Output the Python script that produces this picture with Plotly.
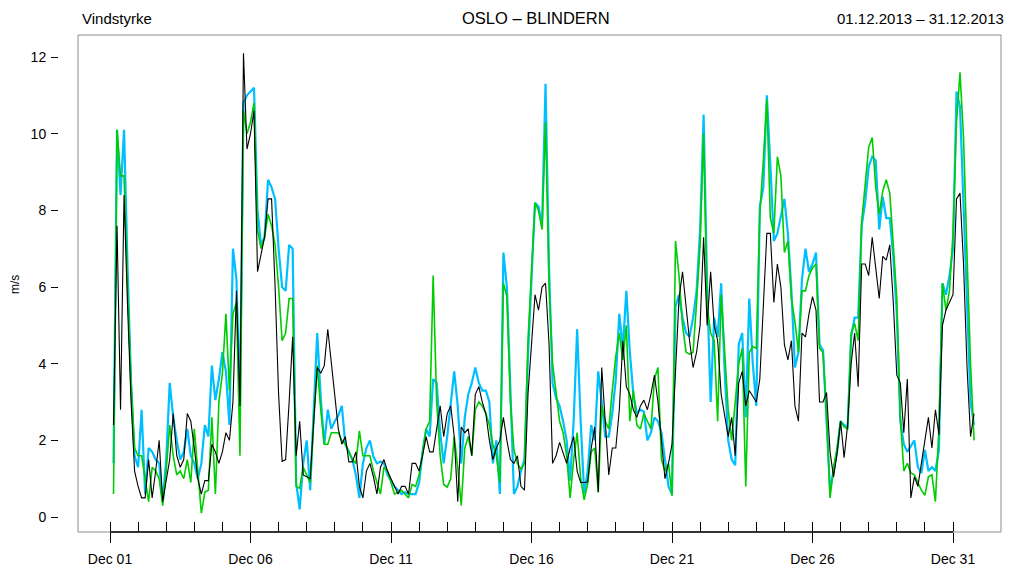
import pandas as pd
import plotly.graph_objects as go

# 3-hourly observations, Dec 1 03:00 .. Dec 31 18:00 (2013)
times = pd.date_range("2013-12-01 03:00", periods=246, freq="3h")

observed = [  # black
    2.4, 7.6, 2.8, 8.4, 5.5, 3.0, 1.2, 0.8,
    0.5, 0.5, 1.5, 0.5, 1.2, 2.0, 0.4, 1.0,
    1.5, 2.7, 1.6, 1.3, 1.5, 2.7, 2.5, 1.8,
    1.0, 0.6, 0.95, 0.95, 1.9, 1.7, 1.4, 1.7,
    2.2, 2.0, 3.0, 5.9, 2.9, 12.1, 9.6, 10.0,
    10.6, 6.4, 6.9, 7.3, 8.3, 8.3, 6.0, 3.2,
    1.45, 1.5, 3.0, 4.7, 1.6, 2.5, 1.1, 1.05,
    1.0, 2.5, 3.9, 3.75, 3.95, 4.9, 4.0, 3.1,
    2.3, 1.9, 2.1, 1.44, 1.44, 1.7, 0.8, 0.5,
    1.2, 1.4, 1.05, 0.6, 1.3, 1.5, 1.2, 1.0,
    0.8, 0.6, 0.8, 0.8, 0.6, 1.4, 1.4, 1.2,
    1.6, 2.1, 1.7, 1.7, 2.3, 2.9, 2.1, 2.7,
    2.9, 2.1, 0.4, 2.35, 2.2, 2.3, 1.6, 3.2,
    3.4, 3.0, 2.7, 2.0, 1.5, 1.8, 2.0, 2.6,
    2.0, 1.5, 1.4, 1.6, 0.8, 0.7, 3.2, 4.5,
    5.8, 5.4, 6.0, 6.1, 4.5, 1.4, 1.6, 1.95,
    1.7, 1.4, 1.8, 2.1, 1.2, 0.9, 0.9, 0.92,
    1.8, 2.35, 0.65, 3.9, 2.5, 1.1, 1.8, 1.8,
    2.8, 4.6, 3.4, 3.2, 2.8, 2.6, 2.9, 3.05,
    2.8, 3.2, 3.7, 3.0, 2.0, 1.0, 1.4, 1.9,
    3.8, 5.7, 6.4, 5.5, 4.6, 3.9, 4.3, 5.0,
    7.3, 5.0, 6.4, 5.0, 4.6, 3.2, 2.6, 2.1,
    2.6, 1.6, 3.5, 3.8, 2.9, 3.3, 3.15, 3.0,
    3.6, 5.5, 7.4, 7.4, 5.6, 6.6, 6.0, 4.5,
    4.1, 4.6, 2.9, 2.5, 4.8, 4.7, 5.3, 5.75,
    5.4, 3.0, 3.0, 3.25, 1.7, 1.05, 1.66, 2.5,
    1.55, 2.4, 4.0, 4.8, 3.4, 6.6, 6.6, 6.3,
    7.3, 6.5, 5.7, 6.8, 6.7, 7.1, 5.6, 3.7,
    3.5, 2.2, 3.6, 0.5, 1.05, 0.8, 1.4, 2.0,
    2.6, 1.8, 2.8, 2.15, 5.0, 5.4, 5.6, 5.8,
    8.3, 8.45, 6.6, 3.9, 2.1, 2.7,
]

model_a = [  # deep sky blue
    1.4, 10.1, 8.4, 10.1, 6.5, 3.5, 1.6, 1.3,
    2.8, 0.6, 1.8, 1.7, 1.5, 1.4, 0.4, 1.5,
    3.5, 2.6, 2.0, 1.5, 1.7, 2.3, 1.6, 1.4,
    1.0, 1.4, 2.4, 2.1, 3.95, 3.05, 3.6, 4.3,
    3.8, 2.4, 7.0, 6.2, 3.0, 10.8, 11.0, 11.1,
    11.2, 8.0, 7.1, 7.3, 8.8, 8.6, 8.3, 7.0,
    6.0, 5.9, 7.1, 7.0, 0.9, 0.2, 1.4, 2.0,
    0.7, 2.8, 4.8, 3.1, 1.9, 2.8, 2.3, 2.5,
    2.65, 2.9, 1.9, 1.7, 1.5, 1.1, 0.5, 1.4,
    1.8, 2.0, 1.57, 1.4, 1.45, 1.4, 1.1, 0.95,
    0.8, 0.7, 0.6, 0.65, 0.6, 0.6, 0.6, 0.9,
    1.7, 2.3, 2.1, 3.6, 3.5, 2.2, 1.4, 2.1,
    3.0, 3.8, 2.9, 1.4, 2.6, 3.2, 3.5, 3.9,
    3.5, 3.3, 3.3, 3.0, 1.4, 2.0, 0.6, 6.9,
    6.0, 3.0, 0.6, 0.8, 1.2, 1.5, 4.2, 6.2,
    8.2, 8.1, 7.6, 11.3, 6.5, 3.5, 3.1, 2.9,
    2.5, 2.0, 0.95, 2.5, 4.9, 2.5, 0.6, 1.2,
    2.4, 2.0, 3.8, 3.0, 2.1, 2.1, 2.7, 3.6,
    5.3, 4.4, 5.9, 4.3, 3.2, 2.7, 2.8, 2.75,
    2.0, 2.2, 2.6, 2.5, 2.2, 1.5, 0.8, 0.6,
    5.5, 5.8, 5.2, 4.8, 4.7, 5.2, 5.9, 7.5,
    10.5, 6.0, 3.0, 5.2, 4.7, 6.1, 3.8, 2.0,
    1.5, 1.35, 4.5, 4.8, 2.6, 5.7, 4.0, 2.9,
    8.1, 8.6, 11.0, 9.2, 7.2, 7.4, 7.9, 8.3,
    7.4, 5.9, 3.9, 4.3, 6.2, 7.0, 6.4, 6.6,
    6.9, 4.5, 4.35, 2.5, 0.7, 1.2, 1.7, 2.5,
    2.4, 2.35, 4.7, 5.2, 5.2, 7.6, 8.2, 9.15,
    9.4, 9.3, 7.5, 8.35, 7.8, 7.8, 6.8, 5.3,
    2.5, 1.9, 1.7, 1.85, 2.0, 1.3, 1.15, 1.75,
    1.2, 1.3, 1.2, 1.75, 6.1, 5.8, 6.3, 7.0,
    11.1, 10.7, 8.0, 5.4, 3.0, 2.4,
]

model_b = [  # green
    0.6, 10.1, 8.9, 8.9, 6.0, 3.5, 1.8, 1.6,
    1.6, 1.0, 0.4, 1.3, 1.2, 1.0, 0.3, 1.2,
    2.4, 1.6, 1.1, 1.2, 1.0, 1.5, 0.9, 2.3,
    1.2, 0.1, 0.65, 0.7, 2.6, 0.6, 3.0, 3.75,
    5.3, 3.3, 5.3, 5.6, 1.6, 10.6, 10.0, 10.3,
    10.8, 7.5, 7.0, 7.3, 7.9, 7.6, 7.1, 6.0,
    4.6, 4.8, 5.7, 5.7, 0.8, 0.75, 1.3, 1.1,
    0.9, 2.5, 3.95, 2.8, 1.9, 1.9, 2.2, 2.2,
    2.2, 2.0, 1.9, 1.7, 1.5, 1.4, 2.25, 1.6,
    1.6, 1.6, 1.2, 0.9, 0.6, 1.3, 1.2, 0.9,
    0.6, 0.65, 0.7, 0.6, 0.5, 0.85, 0.8, 1.1,
    1.7, 2.3, 2.5, 6.3, 3.0, 1.6, 0.85, 0.78,
    1.0, 2.1, 1.3, 0.3, 1.8, 2.1, 1.6, 2.8,
    3.0, 2.9, 2.7, 2.4, 1.9, 1.6, 0.9, 6.1,
    5.75, 3.0, 1.75, 1.4, 1.25, 1.4, 4.6, 6.5,
    8.2, 8.0, 7.5, 10.3, 6.0, 4.0, 3.3, 2.5,
    2.2, 1.6, 0.5, 1.5, 2.2, 1.0, 0.45, 0.88,
    1.7, 1.8, 0.65, 2.9, 2.5, 2.3, 3.3, 4.2,
    4.8, 4.1, 5.0, 2.5, 3.3, 2.4, 2.3, 2.7,
    2.5, 2.3, 3.6, 3.9, 1.5, 1.2, 1.4, 0.55,
    7.2, 6.3, 5.0, 4.3, 4.25, 4.3, 5.6, 7.1,
    10.0, 5.5, 4.8, 4.6, 2.5, 5.8, 4.3, 2.8,
    2.0, 3.0, 4.0, 4.4, 0.8, 4.3, 4.45, 4.4,
    7.9, 9.3, 10.9, 7.8, 7.4, 9.4, 8.9, 6.9,
    7.2, 5.7, 5.1, 4.3, 5.9, 5.9, 6.3, 6.5,
    6.6, 4.4, 4.3, 2.6, 0.5, 1.3, 1.8, 2.5,
    2.35, 2.3, 4.8, 5.05, 4.6, 7.7, 8.7, 9.65,
    9.9, 8.6, 7.9, 8.5, 8.8, 8.45, 7.1, 5.7,
    2.6, 1.2, 1.4, 1.15, 1.1, 0.9, 0.7, 0.57,
    1.05, 1.1, 0.4, 2.35, 6.1, 5.4, 5.9, 7.4,
    10.3, 11.6, 9.9, 6.8, 4.0, 2.0,
]

major_ticks = pd.date_range("2013-12-01", "2013-12-31", freq="5D")
day_ticks = pd.date_range("2013-12-01", "2013-12-31", freq="1D")
y_ticks = [0, 2, 4, 6, 8, 10, 12]

x_range = ["2013-11-29 20:40", "2014-01-01 17:00"]
y_range = [-0.39, 12.575]
FONT = "Liberation Sans, Arial, Helvetica, sans-serif"

W, H = 1012, 574
ML, MR, MT, MB = 40, 11, 35, 42
PW = W - ML - MR


def px(xpix):
    return (xpix - ML) / PW


fig = go.Figure()
fig.add_trace(go.Scatter(x=times, y=model_a, mode="lines",
                         line=dict(color="#00BFFF", width=2.2), hoverinfo="skip"))
fig.add_trace(go.Scatter(x=times, y=model_b, mode="lines",
                         line=dict(color="#00CD00", width=1.6), hoverinfo="skip"))
fig.add_trace(go.Scatter(x=times, y=observed, mode="lines",
                         line=dict(color="#000000", width=1.1), hoverinfo="skip"))
# carrier for the inside daily tick axis
fig.add_trace(go.Scatter(x=[day_ticks[0]], y=[None], xaxis="x2", mode="lines",
                         hoverinfo="skip", showlegend=False))

fig.update_layout(
    width=W, height=H,
    margin=dict(l=ML, r=MR, t=MT, b=MB, autoexpand=False),
    paper_bgcolor="white", plot_bgcolor="white",
    showlegend=False,
    font=dict(family=FONT, color="black", size=14),
    xaxis=dict(
        type="date", range=x_range, domain=[px(78), 1.0],
        tickvals=list(major_ticks), tickformat="%b %d",
        ticks="outside", ticklen=10, tickcolor="black", tickwidth=1,
        ticklabelstandoff=4, automargin=False,
        tickfont=dict(size=14, family=FONT),
        showgrid=False, zeroline=False, showline=False,
    ),
    xaxis2=dict(
        type="date", range=x_range, overlaying="x", side="bottom",
        tickvals=list(day_ticks), ticks="inside", ticklen=10,
        tickcolor="black", tickwidth=1, showticklabels=False, automargin=False,
        showgrid=False, zeroline=False, showline=False,
    ),
    yaxis=dict(
        range=y_range, tickvals=y_ticks, anchor="free", position=px(58),
        ticks="outside", ticklen=7, tickcolor="black", tickwidth=1,
        ticklabelstandoff=2, automargin=False,
        tickfont=dict(size=14, family=FONT),
        showgrid=False, zeroline=False, showline=False,
    ),
    shapes=[
        dict(type="rect", xref="x domain", yref="y domain",
             x0=0, x1=1, y0=0, y1=1,
             line=dict(color="#8c8c8c", width=1), fillcolor="rgba(0,0,0,0)"),
        dict(type="line", xref="x", yref="y domain",
             x0=day_ticks[0], x1=day_ticks[-1], y0=0, y1=0,
             line=dict(color="black", width=1.5)),
    ],
    annotations=[
        dict(text="Vindstyrke", xref="paper", yref="paper", x=px(80), y=1.034,
             xanchor="left", yanchor="middle", showarrow=False,
             font=dict(size=15, family=FONT)),
        dict(text="OSLO – BLINDERN", xref="paper", yref="paper", x=px(536), y=1.034,
             xanchor="center", yanchor="middle", showarrow=False,
             font=dict(size=16.5, family=FONT)),
        dict(text="01.12.2013 – 31.12.2013", xref="paper", yref="paper", x=px(1006), y=1.034,
             xanchor="right", yanchor="middle", showarrow=False,
             font=dict(size=15, family=FONT)),
        dict(text="m/s", xref="paper", yref="paper", x=px(15), y=0.497,
             xanchor="center", yanchor="middle", textangle=-90, showarrow=False,
             font=dict(size=12, family=FONT)),
    ],
)

fig.write_html("out.html")
